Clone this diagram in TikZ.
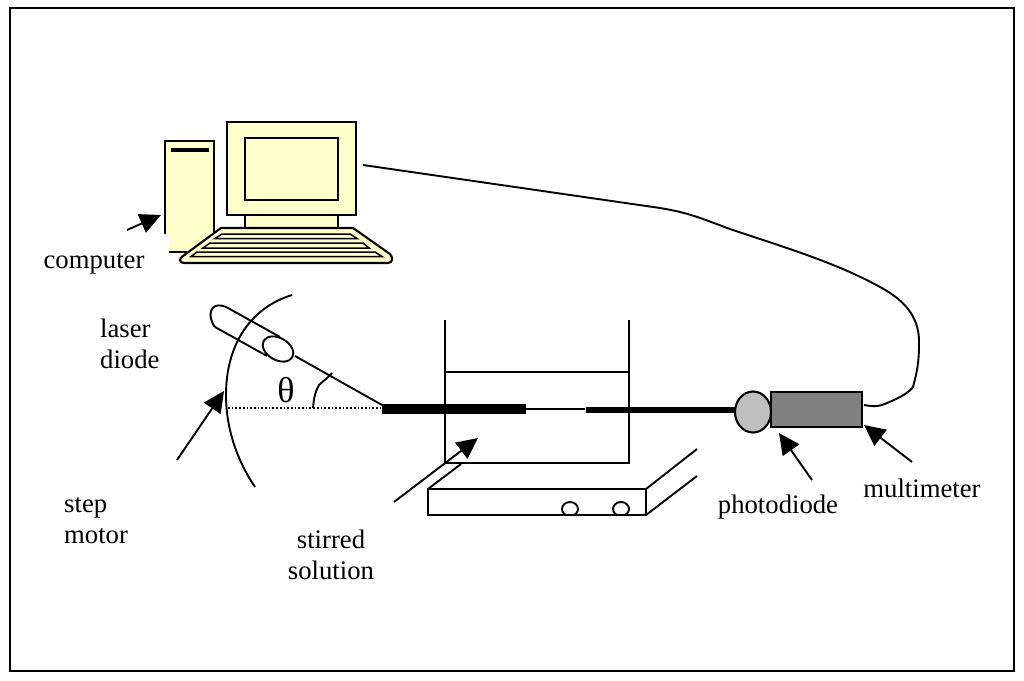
\documentclass[tikz,border=0pt]{standalone}
\usepackage{fontspec}
\setmainfont{Liberation Serif}
\usetikzlibrary{arrows.meta}
\definecolor{pale}{HTML}{FFFFCC}
\tikzset{
  ln/.style={draw=black,line width=1.9pt},
  pc/.style={draw=black,line width=2.1pt,fill=pale},
  keyrow/.style={draw=black,line width=1.5pt,fill=pale},
  callout/.style={draw=black,line width=1.9pt,-{Triangle[length=21pt,width=20pt]},shorten >=0pt},
  lbl/.style={font=\fontsize{26.7}{31}\selectfont,inner sep=0pt,align=center},
  lbll/.style={font=\fontsize{26.7}{31}\selectfont,inner sep=0pt,align=left,anchor=west}
}
\begin{document}
\begin{tikzpicture}[x=1pt,y=-1pt]
\useasboundingbox (0,0) rectangle (1024,680);
\draw[line width=1.9pt] (10,8) rectangle (1014,671);
% computer
\fill[pale] (165,141) rectangle (214,252);
\draw[pc,fill=none] (165,234) -- (165,141) -- (214,141) -- (214,240);
\draw[pc,fill=none] (169,252) -- (187,252);
\fill[white] (163.9,235) rectangle (169,253);
\draw[line width=3.5pt] (171,150) -- (209,150);
\draw[pc] (245,212) rectangle (338,229);
\draw[pc] (227,122) rectangle (356,215);
\draw[pc] (245,138) rectangle (338,200);
\draw[pc,line join=round] (221,228) -- (353,228) -- (390,254) .. controls (393,257) and (393,263) .. (388,263) -- (184,263) .. controls (179,263) and (179,258) .. (183,256) -- cycle;
\draw[keyrow] (222,234) -- (350,234) -- (357,238.5) -- (215,238.5) -- cycle;
\draw[keyrow] (210,243) -- (363,243) -- (369,248) -- (203,248) -- cycle;
\draw[keyrow] (197,252) -- (375,252) -- (382,256.5) -- (191,256.5) -- cycle;
% cable
\coordinate (cableA) at (363,165);
\coordinate (cableB) at (864,405);
\draw[ln] (cableA) -- (660,208) .. controls (690,213) and (700,218) .. (730,229)
  .. controls (780,246) and (835,262) .. (880,287)
  .. controls (908,302) and (920,320) .. (919,345)
  .. controls (919,362) and (917,372) .. (913,387)
  .. controls (908,394) and (895,400) .. (882,405)
  .. controls (876,407) and (870,406) .. (cableB);
% laser and beam
\draw[ln] (228,308) -- (280,337);
\draw[ln] (215,327) -- (267,356);
\draw[ln] (228,308) .. controls (219,303) and (210,305) .. (210.5,316) .. controls (211,320) and (213,325) .. (215,327);
\draw[ln,rotate around={-30:(278,349)}] (278,349) ellipse [x radius=16.5,y radius=11];
\coordinate (vertex) at (382,405);
\coordinate (vertexB) at (382,408);
\draw[ln] (295,356) -- (vertex);
\draw[line width=1.7pt,dotted] (228,408) -- (vertexB);
% step-motor arc
\draw[ln] (292,295) .. controls (250,308) and (226,345) .. (226,395) .. controls (226,430) and (238,462) .. (255,487);
% angle mark
\draw[ln] (313,408) .. controls (314,396) and (316,390) .. (319,385) .. controls (323,381) and (328,378) .. (332,373);
\node[lbl,font=\fontsize{36}{40}\selectfont] (theta) at (286,390) {θ};
% beaker
\draw[ln] (445,320) -- (445,463) -- (629,463) -- (629,320);
\draw[ln] (445,372) -- (629,372);
% fibres
\fill (382,404) rectangle (526,414);
\draw[line width=1.4pt] (526,409) -- (585,409);
\fill (586,406.5) rectangle (736,413);
% stirrer
\draw[ln] (428,489) rectangle (646,515);
\draw[ln] (428,489) -- (461,464);
\draw[ln] (646,489) -- (697,449);
\draw[ln] (646,515) -- (697,476);
\begin{scope}
\clip (550,490) rectangle (640,515);
\draw[ln] (570,509) ellipse [x radius=8,y radius=7];
\draw[ln] (621,509) ellipse [x radius=8,y radius=7];
\end{scope}
% detector
\draw[pc,fill=black!25] (753,412) ellipse [x radius=18,y radius=20.5];
\draw[pc,fill=black!50] (771,392) rectangle (862,427);
% callouts
\coordinate (a1) at (127,230); \coordinate (b1) at (161,215);
\coordinate (a2) at (177,460); \coordinate (b2) at (224,391);
\coordinate (a3) at (394,502); \coordinate (b3) at (478,438);
\coordinate (a4) at (812,480); \coordinate (b4) at (779,433);
\coordinate (a5) at (912,462); \coordinate (b5) at (864,425);
\draw[callout] (a1) -- (b1);
\draw[callout] (a2) -- (b2);
\draw[callout] (a3) -- (b3);
\draw[callout] (a4) -- (b4);
\draw[callout] (a5) -- (b5);
% labels
\node[lbl] (computer) at (94,263.5) {computer};
\node[lbll] (laser) at (100,344) {laser\\[0pt]diode};
\node[lbll] (motor) at (64,521) {step\\[0pt]motor};
\node[lbl] (solution) at (331,554.5) {stirred\\[0pt]solution};
\node[lbl] (photo) at (778,507) {photodiode};
\node[lbl] (multi) at (922,488) {multimeter};
\end{tikzpicture}
\end{document}
